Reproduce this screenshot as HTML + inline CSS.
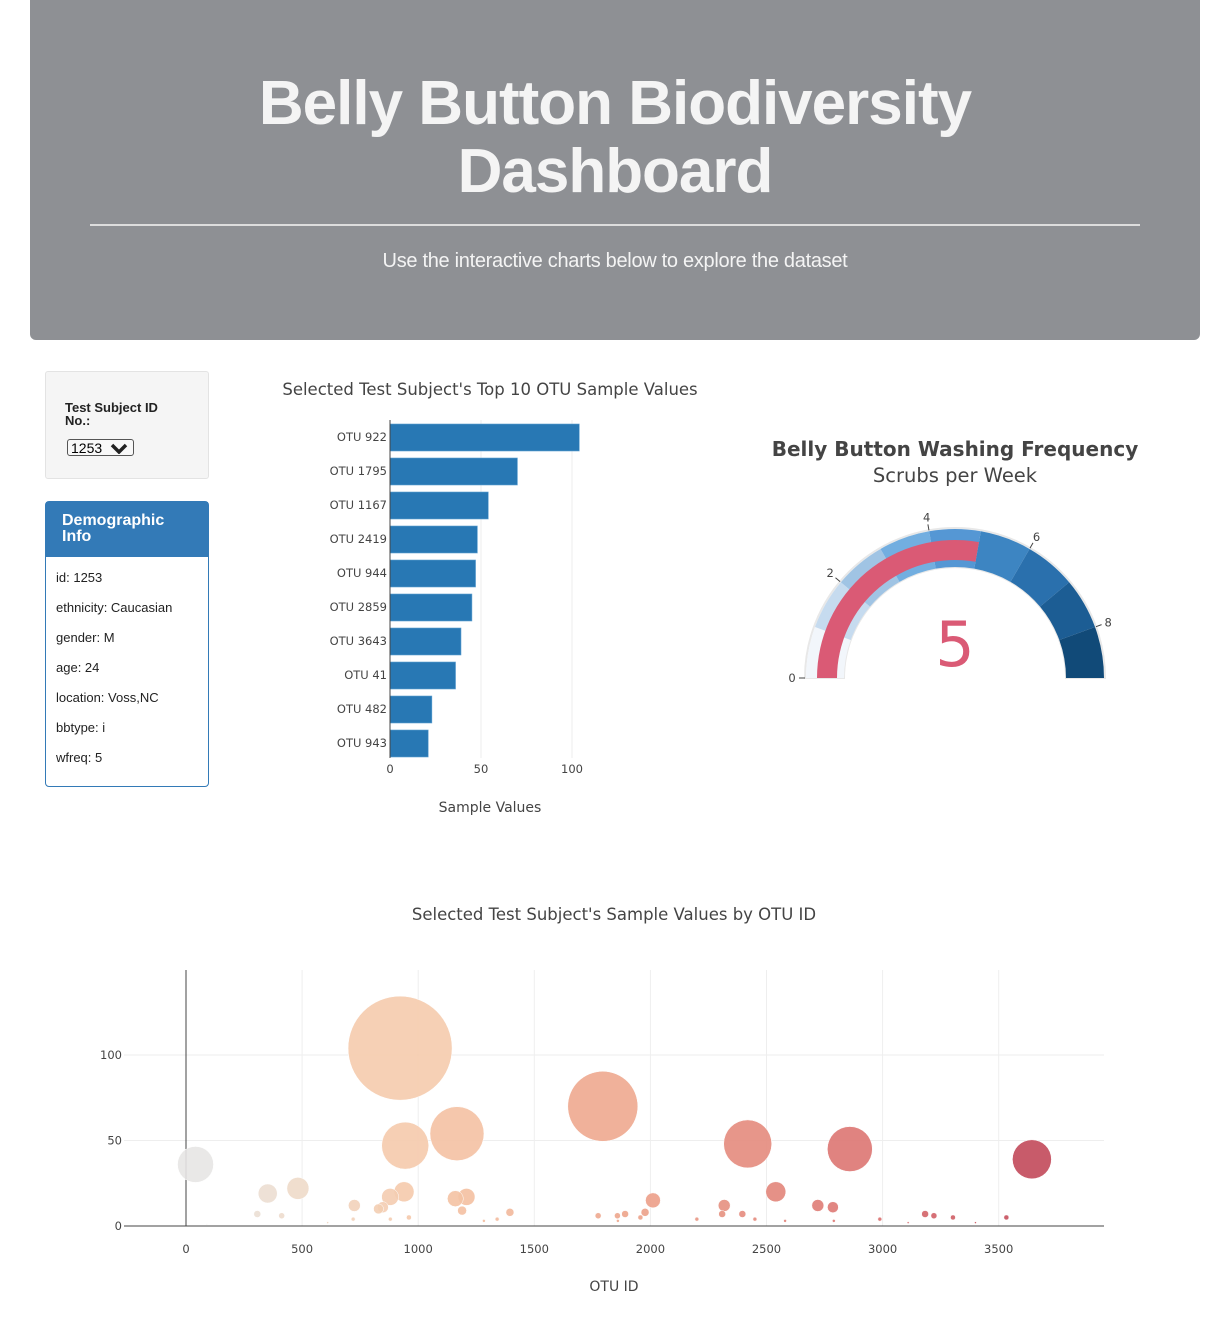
<!DOCTYPE html>
<html><head><meta charset="utf-8">
<style>
body{margin:0;width:1228px;height:1319px;background:#fff;font-family:"Liberation Sans",sans-serif;position:relative;overflow:hidden}
.abs{position:absolute}
#hdr{left:30px;top:0;width:1170px;height:340px;background:#8e9094;border-radius:0 0 6px 6px;color:#f4f4f4;text-align:center}
#hdr h1{margin:0;position:absolute;top:70px;width:100%;font-size:62px;line-height:68px;font-weight:bold;letter-spacing:-1px}
#hdr hr{position:absolute;left:60px;top:224px;width:1050px;margin:0;border:0;border-top:2px solid #ddd}
#hdr p{position:absolute;top:250px;width:100%;margin:0;font-size:20px;font-weight:300;letter-spacing:-0.3px}
#well{left:45px;top:371px;width:162px;height:106px;background:#f5f5f5;border:1px solid #e3e3e3;border-radius:3px}
#panel{left:45px;top:501px;width:162px;height:284px;border:1px solid #337ab7;border-radius:4px}
#panel .ph{background:#337ab7;color:#fff;font-weight:bold;font-size:16px;line-height:16px;padding:11px 16px 10px;height:34px}
#panel .pb div{font-size:13px;color:#222;height:30px;padding-left:10px}
svg text{font-family:"DejaVu Sans","Liberation Sans",sans-serif}
</style></head><body>
<div id="hdr" class="abs">
<h1>Belly Button Biodiversity<br>Dashboard</h1>
<hr>
<p>Use the interactive charts below to explore the dataset</p>
</div>
<div id="well" class="abs">
<div style="position:absolute;left:19px;top:29px;font-size:13px;font-weight:bold;line-height:13px;color:#222">Test Subject ID<br>No.:</div>
<div style="position:absolute;left:21px;top:67px;width:67px;height:17px;border:1px solid #555;border-radius:3px;background:#f8f8f8;font-size:14px;line-height:17px;padding-left:3px;box-sizing:border-box">1253 <svg width="18" height="12" style="position:absolute;right:5px;top:2px"><path d="M2 3 L9 10 L16 3" stroke="#222" stroke-width="3.5" fill="none"/></svg></div>
</div>
<div id="panel" class="abs">
<div class="ph">Demographic<br>Info</div>
<div class="pb" style="padding-top:13px">
<div>id: 1253</div>
<div>ethnicity: Caucasian</div>
<div>gender: M</div>
<div>age: 24</div>
<div>location: Voss,NC</div>
<div>bbtype: i</div>
<div>wfreq: 5</div>
</div></div>

<svg id="bar" class="abs" style="left:0;top:0" width="1228" height="1319"></svg>

<script>
const barLabels=["OTU 922","OTU 1795","OTU 1167","OTU 2419","OTU 944","OTU 2859","OTU 3643","OTU 41","OTU 482","OTU 943"];
const barValues=[104,70,54,48,47,45,39,36,23,21];
const barTicks=[0,50,100];
const gaugeValue=5;
const gaugeTicks=[0,2,4,6,8];
const gaugeStepColors=["#f2f6fb","#c6dbef","#a0c4e4","#72aee0","#5597d4","#3d85c2","#2a70ad","#1c5d94","#114a78"];
const bubbleIds=[41,352,482,307,412,725,879,944,922,939,848,829,1167,1208,1160,1189,1795,1395,1283,1775,1891,1858,1977,2011,2318,2419,2396,2540,2721,2786,2859,3643,3183,3221,3303,3533,2988,2309,1957,2200,2450,720,880,960,1340,1860,2580,2790,3110,3400,90,610];
const bubbleValues=[36,19,22,7,6,12,17,47,104,20,11,10,54,17,16,9,70,8,3,6,7,6,8,15,12,48,7,20,12,11,45,39,7,6,5,5,4,7,5,4,4,4,4,5,4,3,3,3,2,2,1,2];
const bubbleXTicks=[0,500,1000,1500,2000,2500,3000,3500];
const bubbleYTicks=[0,50,100];

const NS="http://www.w3.org/2000/svg";
const svg=document.getElementById('bar');
function mk(tag,attrs,parent){const e=document.createElementNS(NS,tag);for(const k in attrs)e.setAttribute(k,attrs[k]);(parent||svg).appendChild(e);return e;}
function txt(x,y,s,size,anchor,fill,parent,w){const t=mk('text',{x:x,y:y,'font-size':size,'text-anchor':anchor||'start',fill:fill||'#444','font-weight':w||'normal'},parent);t.textContent=s;return t;}

// ---- bar chart
const bx=v=>390+v*1.82;
const bandTop=423,band=34;
const gBar=mk('g',{});


let t=txt(490,395,"Selected Test Subject's Top 10 OTU Sample Values",16.5,'middle','#444',gBar);


barTicks.forEach(v=>{
  if(v>0){mk('line',{x1:bx(v),x2:bx(v),y1:420,y2:758,stroke:'#eee'},gBar);}
  const tt=txt(bx(v),773,String(v),11.5,'middle','#444',gBar);
  
  
});
barLabels.forEach((lab,i)=>{
  const y=bandTop+i*band;
  const r=mk('rect',{x:bx(0),y:y+1,width:bx(barValues[i])-bx(0),height:27,fill:'#2878b4',stroke:'#5e9fd0','stroke-width':0.6},gBar);
  
  
  const tl=txt(387,y+18,lab,11.5,'end','#444',gBar);
  
  
});
mk('line',{x1:390,x2:390,y1:420,y2:758,stroke:'#444'},gBar);
t=txt(490,812,'Sample Values',14,'middle','#444',gBar);



// ---- gauge
const cx=955,cy=678,maxV=9;
const ang=v=>Math.PI*(1-v/maxV);
function arc(r1,r2,v1,v2){const a1=ang(v1),a2=ang(v2);
 const p=(r,a)=>[cx+r*Math.cos(a),cy-r*Math.sin(a)];
 const [x1,y1]=p(r2,a1),[x2,y2]=p(r2,a2),[x3,y3]=p(r1,a2),[x4,y4]=p(r1,a1);
 return `M${x1},${y1} A${r2},${r2} 0 0 1 ${x2},${y2} L${x3},${y3} A${r1},${r1} 0 0 0 ${x4},${y4} Z`;}
const gG=mk('g',{});


t=txt(955,456,'Belly Button Washing Frequency',20,'middle','#444',gG,'bold');


t=txt(955,482,'Scrubs per Week',19.5,'middle','#444',gG);


mk('path',{d:arc(111,150,0,maxV),fill:'none',stroke:'#e8e8e8','stroke-width':2},gG);
gaugeStepColors.forEach((c,i)=>{
  const p=mk('path',{d:arc(111,149,i,i+1),fill:c},gG);
  
  
});
const gb=mk('path',{d:arc(118,138,0,gaugeValue),fill:'#da5a75'},gG);


gaugeTicks.forEach(v=>{
  const a=ang(v);
  mk('line',{x1:cx+150*Math.cos(a),y1:cy-150*Math.sin(a),x2:cx+156*Math.cos(a),y2:cy-156*Math.sin(a),stroke:'#444'},gG);
  const tt=txt(cx+163*Math.cos(a),cy-163*Math.sin(a)+4,String(v),11.5,'middle','#444',gG);
  
  
});
t=txt(955,666,String(gaugeValue),62,'middle','#da5a75',gG);



// ---- bubble chart
const ux=v=>186+v*0.2322, uy=v=>1226-v*1.71;
const gB=mk('g',{});


t=txt(614,920,"Selected Test Subject's Sample Values by OTU ID",16.5,'middle','#444',gB);


bubbleXTicks.forEach(v=>{
  if(v>0)mk('line',{x1:ux(v),x2:ux(v),y1:970,y2:1226,stroke:'#eee'},gB);
  const tt=txt(ux(v),1253,String(v),11.5,'middle','#444',gB);
  
  
});
bubbleYTicks.forEach(v=>{
  if(v>0)mk('line',{x1:124,x2:1104,y1:uy(v),y2:uy(v),stroke:'#eee'},gB);
  const tt=txt(122,uy(v)+4,String(v),11.5,'end','#444',gB);
  
  
});
mk('line',{x1:186,x2:186,y1:970,y2:1226,stroke:'#444'},gB);
mk('line',{x1:124,x2:1104,y1:1226,y2:1226,stroke:'#444'},gB);
const stops=[[0,[230,230,230]],[500,[238,218,200]],[1000,[246,200,168]],[2000,[236,160,136]],[3000,[218,110,110]],[3700,[192,70,88]]];
function col(id){for(let i=1;i<stops.length;i++){if(id<=stops[i][0]||i==stops.length-1){const [a,ca]=stops[i-1],[b,cb]=stops[i];const f=Math.max(0,Math.min(1,(id-a)/(b-a)));return 'rgb('+ca.map((c,k)=>Math.round(c+(cb[k]-c)*f)).join(',')+')';}}}
const order=bubbleValues.map((v,i)=>i).sort((a,b)=>bubbleValues[b]-bubbleValues[a]);
order.forEach(i=>{
  const c=mk('circle',{cx:ux(bubbleIds[i]),cy:uy(bubbleValues[i]),r:bubbleValues[i]/2,fill:col(bubbleIds[i]),'fill-opacity':0.9,stroke:'#fff','stroke-width':0.5},gB);
  
  
});
t=txt(614,1291,'OTU ID',14,'middle','#444',gB);


</script>
</body></html>
